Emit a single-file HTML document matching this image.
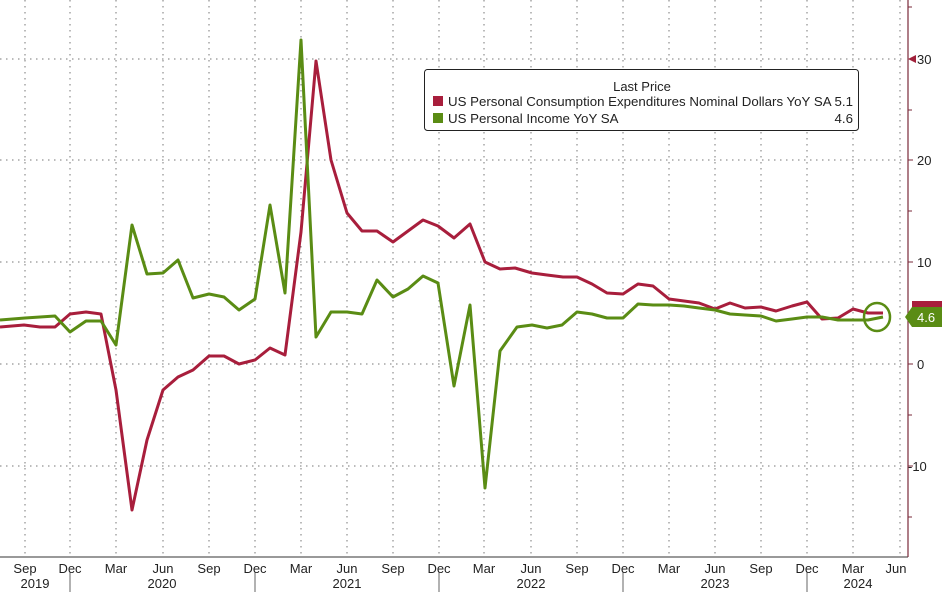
<!DOCTYPE html>
<html><head><meta charset="utf-8"><style>
html,body{margin:0;padding:0;background:#fff;}
svg{display:block;font-family:"Liberation Sans",Tahoma,sans-serif;}
</style></head><body>
<svg width="942" height="592" viewBox="0 0 942 592">
<rect width="942" height="592" fill="#fff"/>
<g stroke="#777" stroke-width="1" stroke-dasharray="1.5,4.5">
<line x1="0" y1="59" x2="905" y2="59"/><line x1="0" y1="160" x2="905" y2="160"/>
<line x1="0" y1="262" x2="905" y2="262"/><line x1="0" y1="364" x2="905" y2="364"/>
<line x1="0" y1="466" x2="905" y2="466"/>
<line x1="25" y1="0" x2="25" y2="557"/><line x1="70" y1="0" x2="70" y2="557"/>
<line x1="116" y1="0" x2="116" y2="557"/><line x1="163" y1="0" x2="163" y2="557"/>
<line x1="209" y1="0" x2="209" y2="557"/><line x1="255" y1="0" x2="255" y2="557"/>
<line x1="301" y1="0" x2="301" y2="557"/><line x1="347" y1="0" x2="347" y2="557"/>
<line x1="393" y1="0" x2="393" y2="557"/><line x1="439" y1="0" x2="439" y2="557"/>
<line x1="484" y1="0" x2="484" y2="557"/><line x1="531" y1="0" x2="531" y2="557"/>
<line x1="577" y1="0" x2="577" y2="557"/><line x1="623" y1="0" x2="623" y2="557"/>
<line x1="669" y1="0" x2="669" y2="557"/><line x1="715" y1="0" x2="715" y2="557"/>
<line x1="761" y1="0" x2="761" y2="557"/><line x1="807" y1="0" x2="807" y2="557"/>
<line x1="853" y1="0" x2="853" y2="557"/><line x1="900" y1="0" x2="900" y2="557"/>
</g>
<line x1="0" y1="557" x2="908" y2="557" stroke="#333" stroke-width="1"/>
<g stroke="#666">
<line x1="70" y1="572" x2="70" y2="592"/><line x1="255" y1="572" x2="255" y2="592"/>
<line x1="439" y1="572" x2="439" y2="592"/><line x1="623" y1="572" x2="623" y2="592"/>
<line x1="807" y1="572" x2="807" y2="592"/>
</g>
<g font-size="13" fill="#222" text-anchor="middle">
<text x="25" y="573">Sep</text><text x="70" y="573">Dec</text><text x="116" y="573">Mar</text>
<text x="163" y="573">Jun</text><text x="209" y="573">Sep</text><text x="255" y="573">Dec</text>
<text x="301" y="573">Mar</text><text x="347" y="573">Jun</text><text x="393" y="573">Sep</text>
<text x="439" y="573">Dec</text><text x="484" y="573">Mar</text><text x="531" y="573">Jun</text>
<text x="577" y="573">Sep</text><text x="623" y="573">Dec</text><text x="669" y="573">Mar</text>
<text x="715" y="573">Jun</text><text x="761" y="573">Sep</text><text x="807" y="573">Dec</text>
<text x="853" y="573">Mar</text><text x="896" y="573">Jun</text>
<text x="35" y="588">2019</text><text x="162" y="588">2020</text><text x="347" y="588">2021</text>
<text x="531" y="588">2022</text><text x="715" y="588">2023</text><text x="858" y="588">2024</text>
</g>
<line x1="908" y1="0" x2="908" y2="557" stroke="#7a2a3a" stroke-width="1.2"/>
<g stroke="#7a2a3a">
<line x1="908" y1="7" x2="912" y2="7"/><line x1="908" y1="110" x2="912" y2="110"/>
<line x1="908" y1="211" x2="912" y2="211"/><line x1="908" y1="313" x2="912" y2="313"/>
<line x1="908" y1="415" x2="912" y2="415"/><line x1="908" y1="517" x2="912" y2="517"/>
<line x1="908" y1="160" x2="913" y2="160"/><line x1="908" y1="262" x2="913" y2="262"/>
<line x1="908" y1="364" x2="913" y2="364"/><line x1="908" y1="466" x2="913" y2="466"/>
</g>
<polygon points="908,59 916,55 916,63" fill="#a0203a"/>
<g font-size="13" fill="#222">
<text x="917" y="64">30</text><text x="917" y="165">20</text><text x="917" y="267">10</text>
<text x="917" y="369">0</text><text x="908" y="471">-10</text>
</g>
<polyline fill="none" stroke="#a81e3c" stroke-width="3" stroke-linejoin="round" points="0,327 24,325 40,327 55,327 70,314 86,312 101,314 116,390 132,510 147,440 163,390 178,377 193,370 209,356 224,356 239,364 255,360 270,348 285,355 301,232 316,61 331,160 347,213 362,231 377,231 393,242 408,231 423,220 438,226 454,238 470,224 485,262 500,269 515,268 532,273 547,275 563,277 577,277 592,284 607,293 623,294 638,284 653,286 669,299 684,301 699,303 715,309 730,303 745,308 761,307 776,311 792,306 807,302 822,319 838,318 853,309 868,313 883,313"/>
<polyline fill="none" stroke="#5a8c14" stroke-width="3" stroke-linejoin="round" points="0,320 25,318 40,317 55,316 70,332 86,321 101,321 116,345 132,225 147,274 163,273 178,260 193,298 209,294 224,297 239,310 255,299 270,205 285,293 301,40 316,337 331,312 347,312 362,314 377,280 393,297 408,289 423,276 438,283 454,386 470,305 485,488 500,351 517,327 532,325 547,328 562,325 577,312 592,314 607,318 623,318 638,304 653,305 669,305 684,306 699,308 715,310 730,314 745,315 761,316 776,321 792,319 807,317 822,317 838,320 853,320 868,320 883,317"/>
<ellipse cx="877" cy="317" rx="13" ry="14" fill="none" stroke="#5a8c14" stroke-width="2.5"/>
<rect x="912" y="301" width="30" height="8" fill="#a81e3c"/>
<polygon points="905,317 912,307 942,307 942,327 912,327" fill="#5a8c14"/>
<text x="917" y="322" font-size="13" fill="#fff">4.6</text>
<rect x="424.5" y="69.5" width="434" height="61" rx="3" fill="#fff" stroke="#222"/>
<text x="642" y="91" font-size="13" fill="#222" text-anchor="middle">Last Price</text>
<rect x="433" y="96" width="10" height="10" fill="#a81e3c"/>
<rect x="433" y="113" width="10" height="10" fill="#5a8c14"/>
<g font-size="13.3" fill="#222">
<text x="448" y="106" textLength="405" lengthAdjust="spacingAndGlyphs">US Personal Consumption Expenditures Nominal Dollars YoY SA 5.1</text>
<text x="448" y="123">US Personal Income YoY SA</text>
<text x="853" y="123" text-anchor="end">4.6</text>
</g>
</svg>
</body></html>
